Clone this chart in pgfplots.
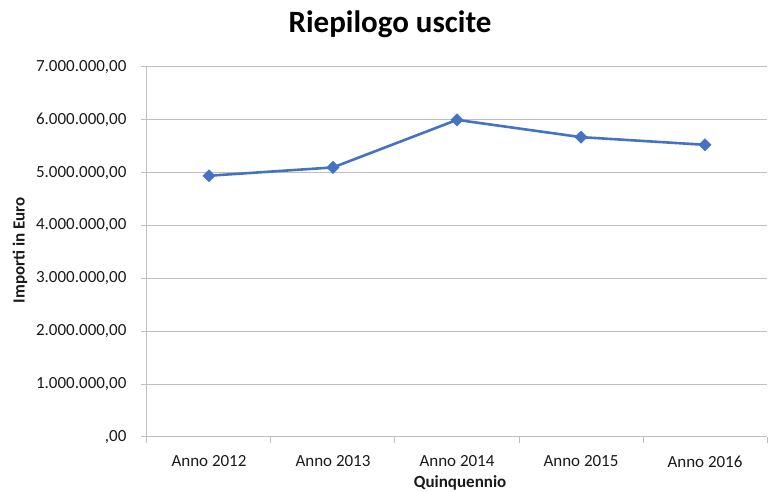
\documentclass[border=0pt]{standalone}
\usepackage{pgfplots}
\pgfplotsset{compat=1.18}
\usepackage{fontspec}
\setmainfont{Carlito}
\definecolor{excelblue}{HTML}{4472C4}
\definecolor{gridgray}{HTML}{BFBFBF}
\definecolor{labeltext}{HTML}{1A1A1A}
\begin{document}
\begin{tikzpicture}
\path[use as bounding box] (-147pt,-55pt) rectangle (621pt,437pt);
\begin{axis}[
 scale only axis, width=620pt, height=370pt,
 xmin=-0.5, xmax=4.5, ymin=0, ymax=7000000,
 axis x line*=bottom, axis y line*=left,
 axis line style={gridgray, line width=1pt, -},
 scaled y ticks=false,
 xtick={0,1,2,3,4},
 xticklabels={Anno 2012,Anno 2013,Anno 2014,Anno 2015,Anno 2016},
 major x tick style={draw=none},
 extra x ticks={-0.5,0.5,1.5,2.5,3.5,4.5},
 extra x tick labels={},
 extra x tick style={major x tick style={draw=gridgray, line width=1pt}, grid=none},
 ytick={0,1000000,2000000,3000000,4000000,5000000,6000000,7000000},
 yticklabels={{,00},{1.000.000,00},{2.000.000,00},{3.000.000,00},{4.000.000,00},{5.000.000,00},{6.000.000,00},{7.000.000,00}},
 ymajorgrids, grid style={gridgray, line width=1pt},
 major y tick style={draw=gridgray, line width=1pt},
 tick align=outside, major tick length=6pt,
 tick label style={font=\fontsize{17}{20}\selectfont, text=labeltext},
 xticklabel style={yshift=-9pt},
 yticklabel style={xshift=-11pt},
 title={\textbf{Riepilogo uscite}},
 title style={font=\fontsize{31}{36}\selectfont, at={(axis description cs:0.392,1.1)}, anchor=center},
 xlabel={\textbf{Quinquennio}},
 xlabel style={font=\fontsize{17}{20}\selectfont, text=labeltext, at={(axis description cs:0.505,-0.125)}, anchor=center},
 ylabel={\textbf{Importi in Euro}},
 ylabel style={font=\fontsize{17}{20}\selectfont, text=labeltext, at={(axis description cs:-0.205,0.505)}, anchor=center, rotate=0},
 clip=false,
]
\addplot[excelblue, line width=2.6pt, mark=square*, mark size=4.4pt, mark options={fill=excelblue, solid, line width=0.3pt, rotate=45}]
 coordinates {(0,4943000)(1,5100000)(2,6000000)(3,5673000)(4,5528000)};
\end{axis}
\end{tikzpicture}
\end{document}
